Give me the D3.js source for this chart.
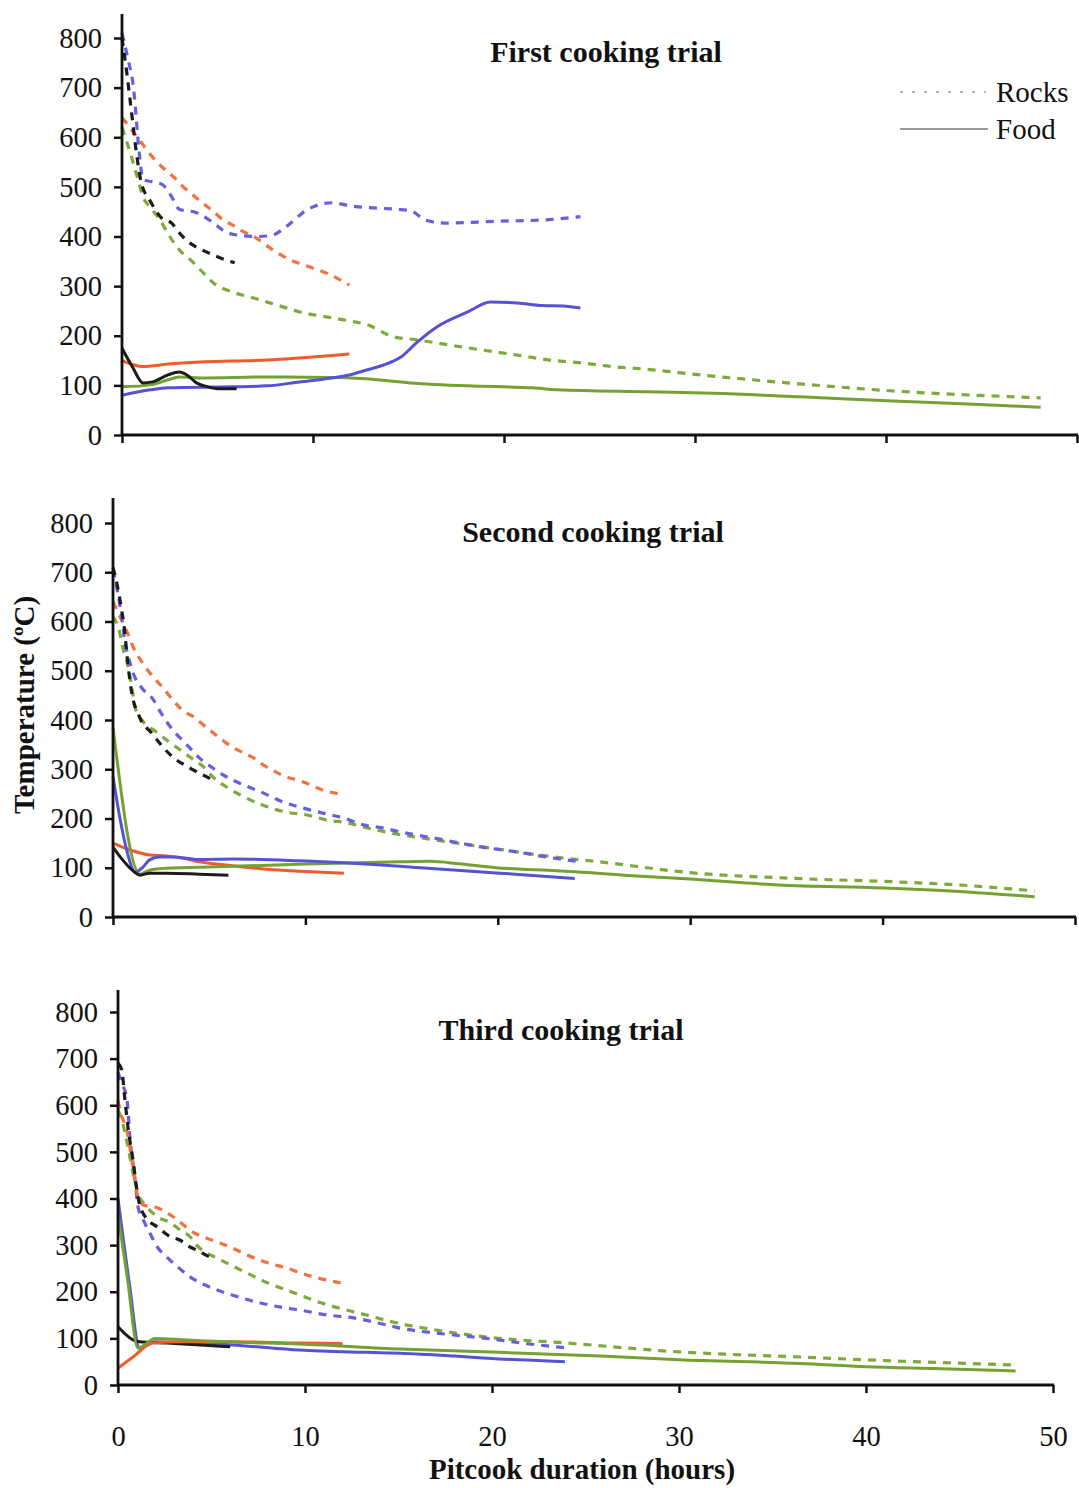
<!DOCTYPE html>
<html>
<head>
<meta charset="utf-8">
<script src="https://cdn.jsdelivr.net/npm/d3@7"></script>
<style>
  html, body { margin: 0; padding: 0; background: #fff; }
  svg { display: block; }
  text { font-family: "Liberation Serif", "Times New Roman", serif; fill: #111; }
</style>
</head>
<body>
<svg id="chart" width="1079" height="1488"></svg>
<script>
// ---------------- DATA ----------------
const xTicks = [0, 10, 20, 30, 40, 50];
const yTicks = [0, 100, 200, 300, 400, 500, 600, 700, 800];
const trialTitles = ["First cooking trial", "Second cooking trial", "Third cooking trial"];
const legendLabels = ["Rocks", "Food"];
const xTitle = "Pitcook duration (hours)";
const yTitle = "Temperature (ºC)";

// Trial 1 — rocks (dashed)
const t1RocksBlack = [[0,800],[0.25,730],[0.5,650],[0.75,570],[1,510],[1.5,470],[2,440],[2.6,427],[3.1,403],[3.7,383],[4.2,373],[5,359],[5.9,347]];
const t1RocksBlue  = [[0,810],[0.3,760],[0.6,700],[0.9,570],[1.1,515],[1.6,510],[2.1,505],[2.6,480],[3,455],[3.9,448],[4.8,427],[5.3,412],[6,403],[7.2,400],[7.9,403],[8.6,420],[9.7,454],[11,468],[11.9,462],[14.6,454],[15.1,452],[15.9,433],[16.9,427],[19.8,431],[21.9,433],[24,440]];
const t1RocksRed   = [[0,640],[0.5,615],[1,590],[1.6,560],[2.1,540],[2.7,520],[3.2,500],[3.7,484],[4.2,468],[4.8,450],[5.3,433],[5.8,423],[6.2,413],[6.9,400],[7.9,373],[8.8,353],[9.8,339],[10.9,323],[11.9,302]];
const t1RocksGreen = [[0,620],[0.5,560],[0.8,520],[1.1,480],[1.5,458],[2,433],[2.5,400],[3,373],[3.7,349],[4.1,333],[4.8,306],[5.8,288],[6.9,276],[8.1,262],[9.3,248],[10.7,238],[11.9,230],[13,220],[13.7,206],[14.2,198],[15.4,192],[17.2,181],[18.9,171],[20.7,161],[22.4,151],[24.1,145],[25.9,137],[27.3,133],[30.3,121],[35.5,103],[40.7,88],[48.1,75]];
// Trial 1 — food (solid)
const t1FoodBlack = [[0,175],[0.55,137],[1.1,105],[1.6,107],[2.4,121],[3,127],[3.4,121],[3.9,105],[4.5,97],[5.1,93],[6,93]];
const t1FoodBlue  = [[0,80],[1.5,91],[2.4,95],[5.8,97],[7.6,99],[9.3,107],[11,115],[11.9,121],[12.8,131],[13.7,141],[14.6,157],[15.4,185],[16.5,218],[18.1,248],[19.3,268],[20.7,266],[22,261],[23.1,260],[24,256]];
const t1FoodRed   = [[0,150],[1.1,138],[2.4,143],[4.1,147],[5.8,149],[7.6,151],[9.3,155],[11,160],[11.9,163]];
const t1FoodGreen = [[0,97],[1.5,101],[2.4,111],[3,117],[4.1,115],[7.6,117],[11,116],[12.5,114],[15.1,105],[18.1,99],[21.5,95],[22.8,91],[27.6,87],[31,84],[35.5,77],[40.7,68],[44,63],[48.1,56]];

// Trial 2 — rocks (dashed)
const t2RocksBlack = [[0,710],[0.25,668],[0.45,623],[0.6,583],[0.75,522],[0.95,461],[1.4,404],[2,374],[2.6,345],[3.1,325],[3.7,309],[4.2,298],[4.9,284],[5.3,275]];
const t2RocksBlue  = [[0,705],[0.25,658],[0.45,609],[0.6,563],[0.8,528],[1.05,495],[1.5,465],[2.1,441],[2.5,414],[3.1,380],[3.6,359],[4.1,339],[4.6,319],[5.1,305],[5.7,289],[6.8,268],[7.8,252],[8.8,234],[9.9,221],[10.9,211],[12,201],[13,187],[14,181],[14.9,173],[17,158],[19,143],[21,132],[22.5,122],[24.3,112]];
const t2RocksRed   = [[0,640],[0.45,603],[0.75,577],[1.05,548],[1.55,515],[2.1,487],[2.6,465],[3.1,441],[3.6,420],[4.2,406],[4.7,390],[5.2,374],[5.7,359],[6.2,345],[6.8,333],[7.3,323],[7.8,309],[8.3,298],[8.8,288],[9.9,274],[10.9,258],[12,248]];
const t2RocksGreen = [[0,610],[0.35,577],[0.5,548],[0.75,515],[1,461],[1.15,426],[1.5,400],[2.1,380],[2.8,359],[3.5,339],[4.2,319],[4.7,305],[5.2,284],[5.9,264],[6.8,244],[7.8,227],[9,213],[10.1,207],[11.1,197],[12.2,191],[13.2,181],[14.4,171],[17,155],[20,138],[22.5,124],[25.3,112],[30,90],[35.7,78],[40.9,71],[44,65],[47.9,53]];
// Trial 2 — food (solid)
const t2FoodBlack = [[0,142],[0.5,116],[1,95],[1.4,85],[1.9,89],[2.8,89],[4.5,87],[6,85]];
const t2FoodBlue  = [[0,285],[0.35,203],[0.75,130],[1.15,91],[1.55,101],[1.9,116],[2.4,122],[3.1,122],[4.5,117],[6.2,118],[9.7,114],[14.9,103],[16,100],[20.1,89],[22,84],[24,78]];
const t2FoodRed   = [[0,150],[0.9,136],[1.9,126],[2.8,124],[3.6,120],[4.5,112],[6.2,104],[8,97],[9.7,93],[12,89]];
const t2FoodGreen = [[0,385],[1.4,87],[1.9,95],[2.8,99],[4.5,101],[6.2,103],[9.7,107],[14.9,112],[16.5,113],[18,108],[19.9,100],[22,96],[24,92],[27,84],[30,77],[34.6,65],[40,59],[44.4,51],[47.9,41]];

// Trial 3 — rocks (dashed)
const t3RocksBlack = [[0,690],[0.2,676],[0.37,612],[0.53,554],[0.8,483],[1.07,403],[1.45,361],[2.1,339],[2.8,318],[3.3,311],[3.85,296],[4.2,290],[4.9,275],[5.2,272]];
const t3RocksBlue  = [[0,670],[0.2,648],[0.48,612],[0.65,526],[0.9,446],[1.07,382],[1.35,354],[1.7,326],[2.1,296],[2.6,275],[3.2,253],[3.85,232],[4.9,210],[6.1,193],[7.4,178],[8.7,167],[9.7,161],[11.2,150],[12.6,144],[13.9,133],[15.1,122],[17.8,108],[19.7,100],[22,88],[23.9,80]];
const t3RocksRed   = [[0,610],[0.1,590],[0.5,541],[0.8,468],[1.07,403],[1.35,386],[2.1,380],[2.8,365],[3.3,350],[4,328],[4.75,315],[6,296],[6.9,279],[8,262],[9,251],[10.1,236],[11.9,219]];
const t3RocksGreen = [[0,590],[0.2,569],[0.53,511],[0.8,455],[1.07,412],[1.55,382],[2.1,361],[2.8,348],[3.3,333],[3.85,318],[4.2,300],[4.75,283],[5.3,272],[6,258],[6.9,240],[8,219],[9,204],[10.1,187],[11.2,172],[12.2,161],[13.3,150],[14.7,135],[17,118],[19.9,102],[24,90],[30,71],[36.5,60],[40,54],[44,48],[48,43]];
// Trial 3 — food (solid)
const t3FoodBlack = [[0,125],[0.8,97],[1.15,93],[2.6,90],[4.4,86],[6,82]];
const t3FoodBlue  = [[0,400],[0.6,220],[1.15,80],[2,93],[3.5,90],[6.1,86],[9.7,75],[13.3,70],[15.1,68],[18,62],[20.4,56],[23.9,50]];
const t3FoodRed   = [[0,36],[0.8,60],[1.85,90],[3.5,93],[6.1,93],[9.7,90],[12,89]];
const t3FoodGreen = [[0,365],[0.5,230],[1.07,79],[2,100],[3.5,97],[6.1,92],[9.7,88],[15.1,77],[20.4,70],[25.8,62],[30,54],[36.5,46],[40,39],[44,35],[48,30]];

const seriesColors = { black: "#1c1c1c", blue: "#5552d4", red: "#f25a2c", green: "#74a232" };
const rocksColors  = { black: "#1c1c1c", blue: "#6660e0", red: "#f4703e", green: "#7eaa3c" };

const trials = [
  { rocks: { green: t1RocksGreen, red: t1RocksRed, blue: t1RocksBlue, black: t1RocksBlack },
    food:  { green: t1FoodGreen, red: t1FoodRed, blue: t1FoodBlue, black: t1FoodBlack } },
  { rocks: { green: t2RocksGreen, red: t2RocksRed, blue: t2RocksBlue, black: t2RocksBlack },
    food:  { red: t2FoodRed, green: t2FoodGreen, blue: t2FoodBlue, black: t2FoodBlack } },
  { rocks: { green: t3RocksGreen, blue: t3RocksBlue, red: t3RocksRed, black: t3RocksBlack },
    food:  { blue: t3FoodBlue, black: t3FoodBlack, red: t3FoodRed, green: t3FoodGreen } }
];

// ---------------- LAYOUT ----------------
const panelGeom = [
  { x0: 122, x1: 1077, yZero: 435, y800: 38,  top: 14,  titleX: 606, titleY: 62 },
  { x0: 113, x1: 1075, yZero: 917, y800: 523, top: 498, titleX: 593, titleY: 542 },
  { x0: 118, x1: 1053, yZero: 1385, y800: 1012, top: 990, titleX: 561, titleY: 1040 }
];

const svg = d3.select("#chart");

panelGeom.forEach((g, i) => {
  const x = d3.scaleLinear().domain([0, 50]).range([g.x0, g.x1]);
  const y = d3.scaleLinear().domain([0, 800]).range([g.yZero, g.y800]);
  const panel = svg.append("g");

  const line = d3.line().x(d => x(d[0])).y(d => y(d[1])).curve(d3.curveMonotoneX);

  // rocks (dashed)
  Object.entries(trials[i].rocks).forEach(([c, data]) => {
    panel.append("path").datum(data)
      .attr("d", line).attr("fill", "none")
      .attr("stroke", rocksColors[c]).attr("stroke-width", 3.2)
      .attr("stroke-dasharray", "8,7");
  });
  // food (solid)
  Object.entries(trials[i].food).forEach(([c, data]) => {
    panel.append("path").datum(data)
      .attr("d", line).attr("fill", "none")
      .attr("stroke", seriesColors[c]).attr("stroke-width", 3)
      .attr("stroke-linejoin", "round");
  });

  // y axis
  const yAxis = d3.axisLeft(y).tickValues(yTicks).tickSize(8).tickPadding(12).tickSizeOuter(0);
  const yg = panel.append("g").attr("transform", `translate(${g.x0},0)`).call(yAxis);
  yg.select(".domain").remove();
  yg.selectAll(".tick line").attr("stroke", "#111").attr("stroke-width", 2.5);
  yg.selectAll(".tick text").style("font-size", "28.5px").style("font-family", "Liberation Serif, serif").attr("fill", "#111");
  panel.append("line").attr("x1", g.x0).attr("x2", g.x0).attr("y1", g.top).attr("y2", g.yZero + 1)
    .attr("stroke", "#111").attr("stroke-width", 2.8);

  // x axis
  const xAxis = d3.axisBottom(x).tickValues(xTicks).tickSize(8).tickSizeOuter(0)
    .tickFormat(i === 2 ? d3.format("d") : () => "");
  const xg = panel.append("g").attr("transform", `translate(0,${g.yZero})`).call(xAxis);
  xg.select(".domain").remove();
  xg.selectAll(".tick line").attr("stroke", "#111").attr("stroke-width", 2.5);
  xg.selectAll(".tick text").attr("y", 61).attr("dy", 0)
    .style("font-size", "28.5px").style("font-family", "Liberation Serif, serif").attr("fill", "#111");
  panel.append("line").attr("x1", g.x0 - 1).attr("x2", g.x1 + 1).attr("y1", g.yZero).attr("y2", g.yZero)
    .attr("stroke", "#111").attr("stroke-width", 2.8);

  // title
  panel.append("text").attr("x", g.titleX).attr("y", g.titleY)
    .attr("text-anchor", "middle").style("font-size", "30px").style("font-weight", "bold")
    .text(trialTitles[i]);
});

// legend
const legend = svg.append("g");
legend.append("line").attr("x1", 900).attr("x2", 986).attr("y1", 92).attr("y2", 92)
  .attr("stroke", "#b8b8b8").attr("stroke-width", 2.2).attr("stroke-dasharray", "3,9");
legend.append("line").attr("x1", 900).attr("x2", 988).attr("y1", 129).attr("y2", 129)
  .attr("stroke", "#9a9a9a").attr("stroke-width", 2.2);
legend.append("text").attr("x", 996).attr("y", 102).style("font-size", "29px").text(legendLabels[0]);
legend.append("text").attr("x", 996).attr("y", 139).style("font-size", "29px").text(legendLabels[1]);

// axis titles
svg.append("text").attr("x", 582).attr("y", 1479).attr("text-anchor", "middle")
  .style("font-size", "29px").style("font-weight", "bold").text(xTitle);
svg.append("text").attr("transform", "translate(34,705) rotate(-90)").attr("text-anchor", "middle")
  .style("font-size", "29px").style("font-weight", "bold").text(yTitle);
</script>
</body>
</html>
